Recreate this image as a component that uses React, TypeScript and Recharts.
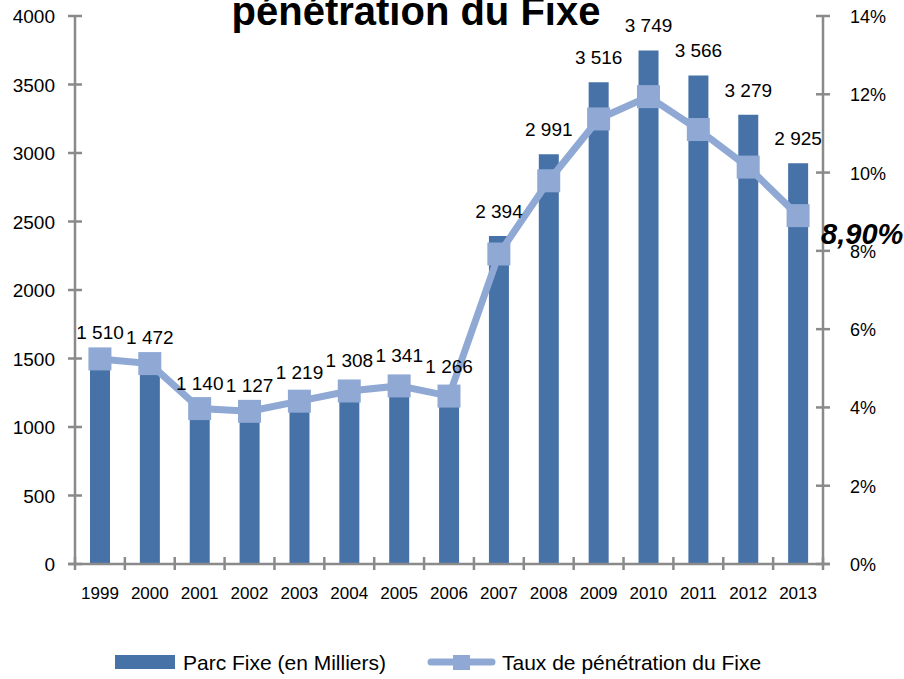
import React from 'react';
import { ComposedChart, Bar, Line, XAxis, YAxis, LabelList } from 'recharts';

const years = ['1999', '2000', '2001', '2002', '2003', '2004', '2005', '2006', '2007', '2008', '2009', '2010', '2011', '2012', '2013'];
const parcFixe = [1510, 1472, 1140, 1127, 1219, 1308, 1341, 1266, 2394, 2991, 3516, 3749, 3566, 3279, 2925];
const tauxPenetration = [5.24, 5.12, 3.97, 3.9, 4.16, 4.42, 4.55, 4.29, 7.92, 9.79, 11.37, 11.94, 11.1, 10.14, 8.9];
const leftTicks = [0, 500, 1000, 1500, 2000, 2500, 3000, 3500, 4000];
const rightTicks = [0, 2, 4, 6, 8, 10, 12, 14];
const titleText = 'pénétration du Fixe';
const barName = 'Parc Fixe (en Milliers)';
const lineName = 'Taux de pénétration du Fixe';

const data = years.map((y, i) => ({ year: y, parc: parcFixe[i], taux: tauxPenetration[i] }));

const W = 904;
const H = 679;
const LEFT_W = 75;
const RIGHT_W = 81;
const TOP = 16;
const X_H = 115;
const BAND = (W - LEFT_W - RIGHT_W) / years.length;
const AXIS = '#8a8a8a';
const BAR_COLOR = '#4672a8';
const LINE_COLOR = '#8fa9d4';
const FONT = "'Liberation Sans', Arial, sans-serif";

const fmtThousands = (v: number) => {
  const k = Math.floor(v / 1000);
  const r = String(v % 1000).padStart(3, '0');
  return k > 0 ? `${k}\u00A0${r}` : String(v);
};
const fmtPct = (v: number) => `${v.toFixed(2).replace('.', ',')}%`;

const LeftTick = (p: any) => {
  const ax = p.x;
  return (
    <g>
      <line x1={ax - 7} x2={ax + 7} y1={p.y} y2={p.y} stroke={AXIS} strokeWidth={2.5} />
      <text x={ax - 20} y={p.y + 7} textAnchor="end" fontSize={19} fill="#000" fontFamily={FONT}>
        {p.payload.value}
      </text>
    </g>
  );
};

const RightTick = (p: any) => {
  const ax = p.x;
  return (
    <g>
      <line x1={ax - 7} x2={ax + 7} y1={p.y} y2={p.y} stroke={AXIS} strokeWidth={2.5} />
      <text x={ax + 27} y={p.y + 7} textAnchor="start" fontSize={18} fill="#000" fontFamily={FONT}>
        {`${p.payload.value}%`}
      </text>
    </g>
  );
};

const XTick = (p: any) => {
  const y0 = p.y;
  const half = BAND / 2;
  return (
    <g>
      {p.index === 0 && (
        <line x1={p.x - half - 7} x2={p.x - half} y1={y0} y2={y0} stroke={AXIS} strokeWidth={2.5} />
      )}
      {p.index === 0 && (
        <line x1={p.x - half} x2={p.x - half} y1={y0 - 7} y2={y0 + 6} stroke={AXIS} strokeWidth={2.5} />
      )}
      <line x1={p.x + half} x2={p.x + half} y1={y0 - 7} y2={y0 + 6} stroke={AXIS} strokeWidth={2.5} />
      {p.index === years.length - 1 && (
        <line x1={p.x + half} x2={p.x + half + 7} y1={y0} y2={y0} stroke={AXIS} strokeWidth={2.5} />
      )}
      <text x={p.x} y={y0 + 35} textAnchor="middle" fontSize={17} fill="#000" fontFamily={FONT}>
        {p.payload.value}
      </text>
    </g>
  );
};

const SquareDot = (p: any) => (
  <rect key={`dot-${p.index}`} x={p.cx - 11.5} y={p.cy - 11.5} width={23} height={23} fill={LINE_COLOR} />
);

const BarLabel = (p: any) => {
  const x = Number(p.x) + Number(p.width) / 2;
  const y = Number(p.y) - 18;
  return (
    <text x={x} y={y} textAnchor="middle" fontSize={19} fill="#000" fontFamily={FONT}>
      {fmtThousands(Number(p.value))}
    </text>
  );
};

const LastLabel = (p: any) => {
  if (p.index !== tauxPenetration.length - 1) return null;
  const x = p.viewBox?.x ?? p.x;
  const y = p.viewBox?.y ?? p.y;
  return (
    <text x={x + 23} y={y + 28} fontSize={29} fontWeight="bold" fontStyle="italic" fill="#000" fontFamily={FONT}>
      {fmtPct(Number(p.value))}
    </text>
  );
};

export default function App() {
  return (
    <div style={{ position: 'fixed', left: 0, top: 0, width: W, height: H, background: '#fff', overflow: 'hidden' }}>
      <ComposedChart
        width={W}
        height={H}
        data={data}
        margin={{ top: TOP, right: 0, bottom: 0, left: 0 }}
      >
        <XAxis
          dataKey="year"
          height={X_H}
          interval={0}
          tickSize={0}
          tickMargin={0}
          tickLine={false}
          axisLine={{ stroke: AXIS, strokeWidth: 2.5 }}
          tick={<XTick />}
        />
        <YAxis
          yAxisId="left"
          orientation="left"
          width={LEFT_W}
          domain={[0, 4000]}
          ticks={leftTicks}
          interval={0}
          tickSize={0}
          tickMargin={0}
          tickLine={false}
          axisLine={{ stroke: AXIS, strokeWidth: 2.5 }}
          tick={<LeftTick />}
        />
        <YAxis
          yAxisId="right"
          orientation="right"
          width={RIGHT_W}
          domain={[0, 14]}
          ticks={rightTicks}
          interval={0}
          tickSize={0}
          tickMargin={0}
          tickLine={false}
          axisLine={{ stroke: AXIS, strokeWidth: 2.5 }}
          tick={<RightTick />}
        />
        <Bar yAxisId="left" dataKey="parc" name={barName} fill={BAR_COLOR} barSize={20} isAnimationActive={false}>
          <LabelList dataKey="parc" content={<BarLabel />} />
        </Bar>
        <Line
          yAxisId="right"
          dataKey="taux"
          name={lineName}
          stroke={LINE_COLOR}
          strokeWidth={7}
          dot={SquareDot}
          activeDot={false}
          isAnimationActive={false}
        >
          <LabelList dataKey="taux" content={<LastLabel />} />
        </Line>
      </ComposedChart>
      <svg width={W} height={40} style={{ position: 'absolute', left: 0, top: 0 }}>
        <text x={416} y={25} textAnchor="middle" fontSize={40} fontWeight="bold" fill="#000" fontFamily={FONT}>
          {titleText}
        </text>
      </svg>
      <svg width={W} height={39} style={{ position: 'absolute', left: 0, top: 640 }}>
        <rect x={115} y={15} width={60} height={14} fill={BAR_COLOR} />
        <text x={183} y={30} fontSize={21} fill="#000" fontFamily={FONT}>{barName}</text>
        <line x1={431} x2={492} y1={22} y2={22} stroke={LINE_COLOR} strokeWidth={7} strokeLinecap="round" />
        <rect x={453} y={15} width={17} height={15} fill={LINE_COLOR} />
        <text x={502} y={30} fontSize={21} fill="#000" fontFamily={FONT}>{lineName}</text>
      </svg>
    </div>
  );
}
